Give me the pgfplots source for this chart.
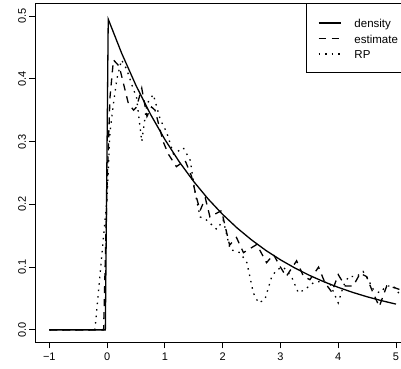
\documentclass[border=0pt]{standalone}
\usepackage{fontspec}
\setmainfont{Liberation Sans}
\usepackage{pgfplots}
\pgfplotsset{compat=1.18}
\begin{document}
\begin{tikzpicture}
\begin{axis}[
  scale only axis, width=374.5pt, height=339pt,
  xmin=-1.24, xmax=5.24, ymin=-0.02, ymax=0.52,
  xtick={-1,0,1,2,3,4,5}, xticklabels={−1,0,1,2,3,4,5},
  ytick={0,0.1,0.2,0.3,0.4,0.5}, yticklabels={0.0,0.1,0.2,0.3,0.4,0.5},
  tick pos=left, tick align=outside, major tick length=6pt,
  tick style={black, line width=0.8pt},
  axis line style={line width=0.8pt},
  ticklabel style={font=\fontsize{11}{13}\selectfont},
  yticklabel style={rotate=90, anchor=south},
  xticklabel style={anchor=north, yshift=-1pt},
  legend image code/.code={\draw[#1, line width=1.5pt] (0pt,0pt) -- (22pt,0pt);},
  legend style={at={(rel axis cs:1,1)}, anchor=north east, draw=black, line width=0.8pt,
    inner xsep=12pt, inner ysep=14pt, row sep=5.5pt, column sep=0pt,
    font=\fontsize{11.5}{13}\selectfont,
    nodes={inner sep=0pt, text height=10pt, text depth=0pt, anchor=west}},
  legend cell align=left,
]
\addplot[black, line width=1.3pt] coordinates {
(-1,0) (-0.03,0) (0.02,0.495) (0.25,0.4412) (0.5,0.3894) (0.75,0.3437) (1,0.3033)
(1.25,0.2676) (1.5,0.2362) (1.75,0.2084) (2,0.1839) (2.25,0.1623) (2.5,0.1433)
(2.75,0.1264) (3,0.1116) (3.25,0.0985) (3.5,0.0869) (3.75,0.0767) (4,0.0677)
(4.25,0.0597) (4.5,0.0527) (4.75,0.0465) (5,0.0410)};
\addplot[black, line width=1.3pt, dash pattern=on 7pt off 6pt] coordinates {
(-1,0) (-0.06,0) (0,0.23) (0.05,0.37) (0.11,0.43) (0.21,0.42) (0.29,0.39) (0.37,0.36)
(0.46,0.35) (0.51,0.355) (0.60,0.385) (0.69,0.34) (0.77,0.355) (0.83,0.35) (0.97,0.30)
(1.06,0.28) (1.20,0.26) (1.35,0.27) (1.46,0.245) (1.55,0.21) (1.61,0.19) (1.70,0.21)
(1.78,0.18) (1.98,0.19) (2.12,0.135) (2.24,0.147) (2.36,0.123) (2.59,0.136) (2.76,0.107)
(2.88,0.12) (3.00,0.10) (3.10,0.085) (3.28,0.11) (3.40,0.085) (3.51,0.08) (3.66,0.10)
(3.77,0.075) (3.89,0.06) (4.00,0.088) (4.12,0.07) (4.26,0.07) (4.38,0.09) (4.49,0.085)
(4.58,0.064) (4.71,0.037) (4.84,0.07) (4.98,0.067) (5.07,0.064)};
\addplot[black, line width=1.3pt, dash pattern=on 1.5pt off 5pt] coordinates {
(-1,0) (-0.21,0) (0,0.21) (0.05,0.315) (0.11,0.36) (0.17,0.40) (0.25,0.43) (0.34,0.415)
(0.43,0.39) (0.51,0.37) (0.60,0.30) (0.69,0.36) (0.80,0.375) (0.92,0.335) (1.03,0.315)
(1.15,0.28) (1.32,0.29) (1.44,0.27) (1.52,0.22) (1.61,0.18) (1.72,0.175) (1.90,0.16)
(2.01,0.175) (2.13,0.128) (2.30,0.123) (2.42,0.107) (2.53,0.059) (2.62,0.043) (2.73,0.048)
(2.85,0.085) (2.94,0.096) (3.05,0.10) (3.19,0.085) (3.31,0.059) (3.42,0.064) (3.57,0.075)
(3.68,0.077) (3.85,0.075) (4.00,0.043) (4.09,0.07) (4.18,0.085) (4.32,0.085) (4.43,0.093)
(4.49,0.085) (4.61,0.064) (4.72,0.059) (4.84,0.07) (4.95,0.07) (5.07,0.056)};
\legend{\hspace*{13pt}\makebox[43pt][l]{density},\hspace*{13pt}\makebox[43pt][l]{estimate},\hspace*{13pt}\makebox[43pt][l]{RP}}
\coordinate (bbsw) at (axis cs:-1.853,-0.0621);
\coordinate (bbne) at (axis cs:5.0865,0.5255);
\end{axis}
\pgfresetboundingbox
\path[use as bounding box] (bbsw) rectangle (bbne);
\end{tikzpicture}
\end{document}
